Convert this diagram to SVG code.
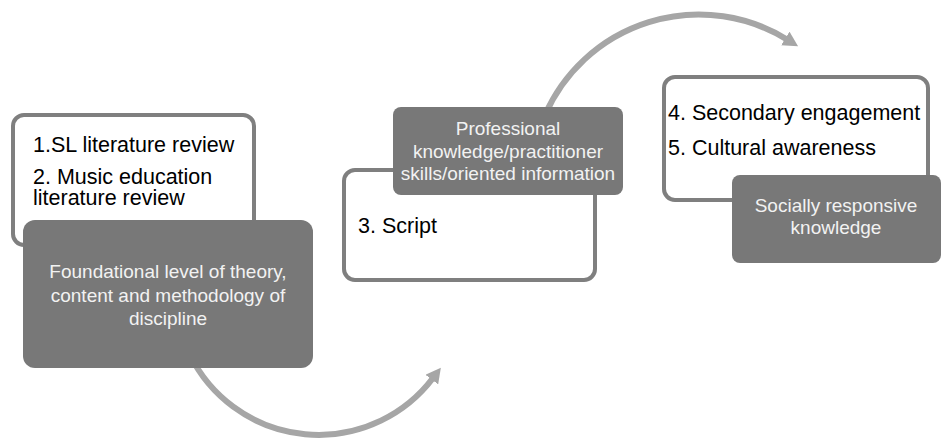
<svg xmlns="http://www.w3.org/2000/svg" width="948" height="438" viewBox="0 0 948 438">
<style>
.box{fill:#ffffff;stroke:#7f7f7f;stroke-width:4}
.dark{fill:#787878}
.t{font-family:"Liberation Sans",Arial,sans-serif;font-size:21.5px;fill:#000000}
.w{font-family:"Liberation Sans",Arial,sans-serif;font-size:19px;fill:#f2f2f2;text-anchor:middle}
.arc{fill:none;stroke:#a6a6a6;stroke-width:6}
</style>
<defs>
<marker id="ah" markerUnits="userSpaceOnUse" markerWidth="16" markerHeight="16" refX="2" refY="8" orient="auto">
<path d="M0,0 L15,8 L0,16 z" fill="#a6a6a6"/>
</marker>
</defs>
<g id="connectors">
<path class="arc" d="M190,355 A143.5,143.5 0 0 0 433,378" marker-end="url(#ah)"/>
<path class="arc" d="M545,115 A168,168 0 0 1 787,39.5" marker-end="url(#ah)"/>
</g>
<g id="node1">
<rect class="box" x="13" y="115" width="241" height="130" rx="11"/>
<text class="t" x="33" y="152">1.SL literature review</text>
<text class="t" x="33" y="184">2. Music education</text>
<text class="t" x="33" y="205">literature review</text>
</g>
<g id="node1b">
<rect class="dark" x="23" y="220" width="290" height="148" rx="12"/>
<text class="w" x="168" y="278">Foundational level of theory,</text>
<text class="w" x="168" y="302">content and methodology of</text>
<text class="w" x="168" y="325">discipline</text>
</g>
<g id="node2">
<rect class="box" x="344" y="170" width="251" height="110" rx="11"/>
<text class="t" x="358" y="233">3. Script</text>
</g>
<g id="node2b">
<rect class="dark" x="393" y="107" width="230" height="88" rx="8"/>
<text class="w" x="508" y="135">Professional</text>
<text class="w" x="508" y="158">knowledge/practitioner</text>
<text class="w" x="508" y="180">skills/oriented information</text>
</g>
<g id="node3">
<rect class="box" x="664" y="77" width="264" height="123" rx="11"/>
<text class="t" x="668" y="120">4. Secondary engagement</text>
<text class="t" x="668" y="155">5. Cultural awareness</text>
</g>
<g id="node3b">
<rect class="dark" x="732" y="175" width="209" height="88" rx="8"/>
<text class="w" x="836" y="212">Socially responsive</text>
<text class="w" x="836" y="234">knowledge</text>
</g>
</svg>
